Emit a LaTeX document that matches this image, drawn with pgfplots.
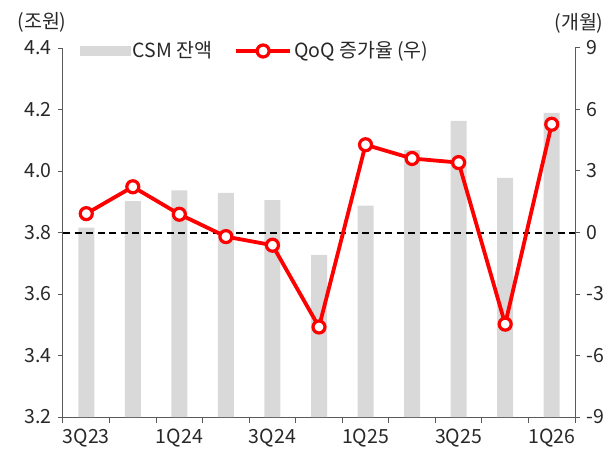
\documentclass[border=0pt]{standalone}
\usepackage{pgfplots}
\pgfplotsset{compat=1.18}
\usepackage{fontspec}
\setmainfont{Noto Sans CJK KR}
\definecolor{barg}{RGB}{217,217,217}
\definecolor{lred}{RGB}{255,0,0}
\definecolor{axg}{RGB}{90,90,90}
\definecolor{txt}{RGB}{40,40,40}
\pgfplotstableread{
x csm qoq
0 3.816 0.92
1 3.902 2.23
2 3.937 0.89
3 3.929 -0.20
4 3.905 -0.62
5 3.727 -4.61
6 3.887 4.28
7 4.068 3.61
8 4.163 3.41
9 3.978 -4.47
10 4.189 5.28
}\datatable
\begin{document}
\fontsize{19.5pt}{23pt}\selectfont
\begin{tikzpicture}[x=1pt,y=1pt]
\path[use as bounding box] (-63,-42) rectangle (553,417);
\pgfplotsset{every axis/.append style={
  at={(0,0)}, anchor=south west, scale only axis, width=512pt, height=369pt,
  xmin=-0.5, xmax=10.5,
  tick align=outside, major tick length=5pt, minor tick length=6pt,
  axis line style={axg,line width=1pt,-}, tick style={axg,line width=1pt},
  /pgf/number format/assume math mode=true,
  tick label style={font=\fontsize{19.5pt}{23pt}\selectfont, text=txt},
}}
\begin{axis}[
  ymin=3.2, ymax=4.4,
  axis y line*=left, axis x line*=bottom,
  ytick={3.2,3.4,3.6,3.8,4.0,4.2,4.4},
  yticklabel style={/pgf/number format/.cd,fixed,fixed zerofill,precision=1},
  xtick={0,2,4,6,8,10}, xticklabels={3Q23,1Q24,3Q24,1Q25,3Q25,1Q26},
  major x tick style={draw=none},
  minor xtick={-0.5,0.5,...,10.5},
]
\addplot[ybar, bar width=16pt, fill=barg, draw=none] table[x=x,y=csm] {\datatable};
\end{axis}
\begin{axis}[
  ymin=-9, ymax=9,
  axis y line*=right, axis x line=none,
  ytick={-9,-6,-3,0,3,6,9},
  legend style={at={(0,1)}, anchor=west, xshift=14pt, yshift=-3pt, draw=none, fill=none,
    font=\fontsize{19.5pt}{23pt}\selectfont, text=txt, legend columns=2,
    /tikz/every even column/.append style={column sep=20pt}},
]
\addlegendimage{legend image code/.code={\fill[barg] (0pt,-4.5pt) rectangle (50pt,4.5pt);}}
\addlegendentry{CSM 잔액}
\addplot[black, line width=2pt, dash pattern=on 7pt off 4.5pt, forget plot] coordinates {(-0.5,0) (10.5,0)};
\addplot[lred, line width=3.8pt, mark=*, mark size=6pt, mark options={fill=white, draw=lred, line width=3.2pt},
  legend image code/.code={\draw[mark repeat=2,mark phase=2] plot coordinates {(0pt,0pt) (27pt,0pt) (54pt,0pt)};}]
  table[x=x,y=qoq] {\datatable};
\addlegendentry{QoQ 증가율 (우)}
\end{axis}
\node[text=txt] at (-21,395) {(조원)};
\node[text=txt] at (516,394) {(개월)};
\end{tikzpicture}
\end{document}
